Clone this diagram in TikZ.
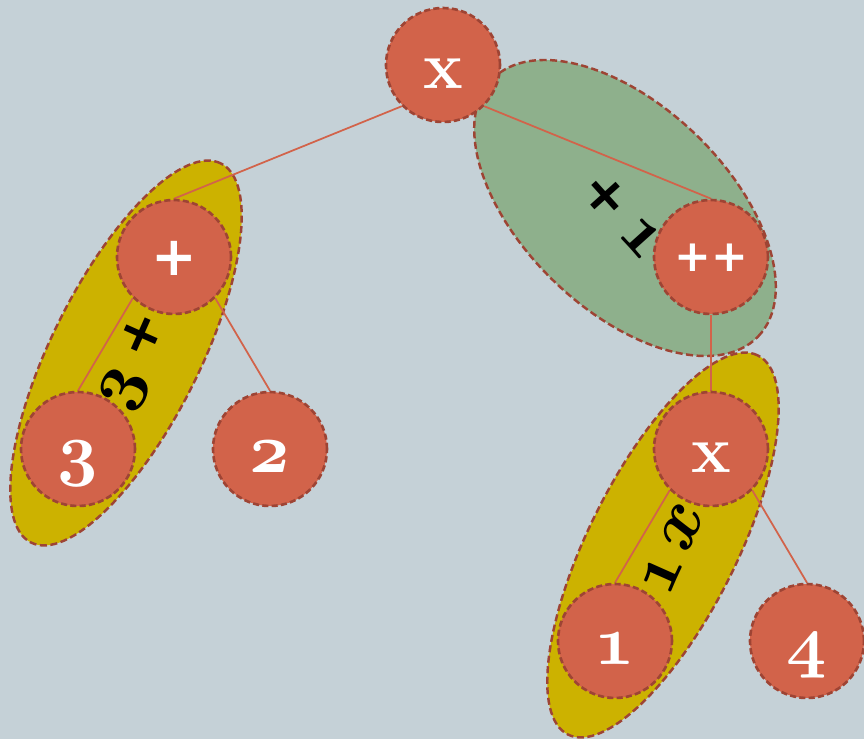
\RequirePackage{fix-cm}
\documentclass[tikz,border=0pt]{standalone}
\usepackage{fontspec}
\usepackage{tikz}
\usetikzlibrary{positioning,calc,backgrounds}

\newfontfamily\plusfamily{DejaVu Sans}

\definecolor{bgblue}{RGB}{197,209,215}
\definecolor{nodered}{RGB}{210,99,74}
\definecolor{rimbrown}{RGB}{158,68,52}
\definecolor{grpyellow}{RGB}{204,178,0}
\definecolor{grpgreen}{RGB}{142,176,140}

\newcommand{\numfont}{\fontsize{40}{40}\selectfont\bfseries\boldmath}
\newcommand{\opfont}{\fontsize{31}{31}\selectfont\plusfamily\bfseries}
\newcommand{\osd}[1]{$\mathnormal{#1}$}

\tikzset{
  tnode/.style={circle, minimum size=2.28cm, inner sep=0pt, fill=nodered,
    draw=rimbrown, line width=1.5pt, dash pattern=on 3.5pt off 1.8pt,
    text=white, font=\numfont, text height=27pt, text depth=0pt},
  opnode/.style={tnode, font=\opfont, text height=21pt},
  vnode/.style={tnode, font=\fontsize{38}{38}\selectfont\bfseries},
  grp/.style={draw=rimbrown, line width=1.4pt, dash pattern=on 4pt off 2pt},
  edge/.style={draw=nodered, line width=1pt},
  lbl/.style={font=\numfont, text=black, inner sep=0pt},
}

\begin{document}
\begin{tikzpicture}
\useasboundingbox (0,0) rectangle (17.28,-14.78);
% tree: levels 3.84 apart, groups drawn behind on the background layer
\node[vnode] (mul) at (8.86,-1.30) {x};
\node[opnode] (plus) at (3.48,-5.14) {+};
\node[opnode, font=\fontsize{25}{25}\selectfont\plusfamily\bfseries, text height=17pt] (incr) at (14.22,-5.14) {++};
\node[tnode] (three) at (1.56,-8.98) {\osd{3}};
\node[tnode] (two) at (5.40,-8.98) {\osd{2}};
\node[vnode] (mul2) at (14.22,-8.98) {x};
\node[tnode] (one) at (12.30,-12.82) {\osd{1}};
\node[tnode] (four) at (16.14,-12.82) {\osd{4}};

\begin{scope}[on background layer]
  \fill[bgblue] (0,0) rectangle (17.28,-14.78);
  \coordinate (gA) at ($(three)!0.5!(plus)$);
  \coordinate (gB) at (12.50,-4.16);
  \coordinate (gC) at ($(one)!0.5!(mul2)$);
  \draw[grp, fill=grpgreen, rotate around={-44:(gB)}] (gB) ellipse [x radius=3.70, y radius=2.04];
  \draw[grp, fill=grpyellow, rotate around={63.4:(gA)}] (gA) ellipse [x radius=4.24, y radius=1.48];
  \draw[grp, fill=grpyellow, rotate around={63.4:(gC)}] (gC) ellipse [x radius=4.24, y radius=1.48];
  \node[lbl, rotate=66] (lblA) at (2.72,-7.24) {\osd{3}\hspace{8pt}{\opfont+}};
  \node[lbl, rotate=-48] (lblB) at (12.46,-4.32) {{\opfont+}\hspace{7pt}\osd{1}};
  \node[lbl, rotate=66] (lblC) at (13.46,-10.98) {\osd{1}\hspace{4pt}$x$};
  \draw[edge] (mul.south west) -- (plus.north);
  \draw[edge] (mul.south east) -- (incr.north);
  \draw[edge] (plus.south west) -- (three.north);
  \draw[edge] (plus.south east) -- (two.north);
  \draw[edge] (incr.south) -- (mul2.north);
  \draw[edge] (mul2.south west) -- (one.north);
  \draw[edge] (mul2.south east) -- (four.north);
\end{scope}
\end{tikzpicture}
\end{document}
